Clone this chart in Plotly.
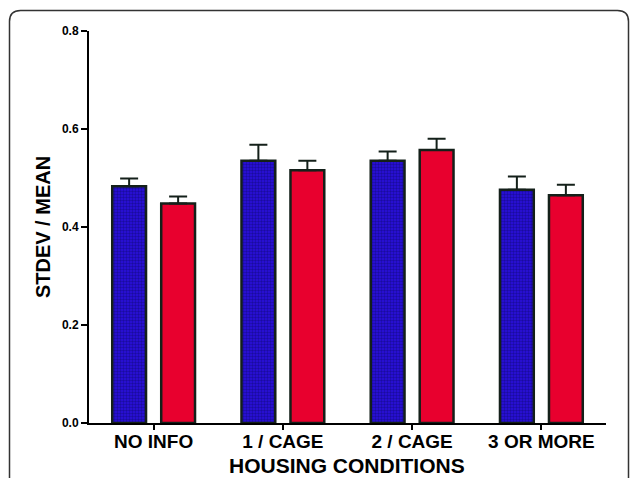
import plotly.graph_objects as go

categories = ["NO INFO", "1 / CAGE", "2 / CAGE", "3 OR MORE"]
blue_values = [0.483, 0.535, 0.535, 0.476]
blue_err = [0.016, 0.033, 0.019, 0.027]
red_values = [0.448, 0.516, 0.557, 0.465]
red_err = [0.014, 0.019, 0.023, 0.021]
y_ticks = [0.0, 0.2, 0.4, 0.6, 0.8]
y_ticklabels = ["0.0", "0.2", "0.4", "0.6", "0.8"]

W, H = 630, 478
L, R, T, B = 89, 24, 31, 55
pw, ph = W - L - R, H - T - B

def px(x):
    return (x - L) / pw

def py(y):
    return (H - B - y) / ph

outline = "#14201a"
err_style = dict(type="data", symmetric=False, thickness=2, width=9, color=outline)

fig = go.Figure()
fig.add_trace(go.Bar(
    x=categories, y=blue_values, name="A",
    marker=dict(color="#2a10e0",
                line=dict(color=outline, width=2.5),
                pattern=dict(shape=".", fgcolor="#0a0560", bgcolor="#2a10e0",
                             size=3, solidity=0.5, fillmode="overlay")),
    error_y=dict(array=blue_err, arrayminus=[0] * len(blue_err), **err_style),
))
fig.add_trace(go.Bar(
    x=categories, y=red_values, name="B",
    marker=dict(color="#e8002e", line=dict(color=outline, width=2.5)),
    error_y=dict(array=red_err, arrayminus=[0] * len(red_err), **err_style),
))

fl, ft, fr, fb, rad = 9.5, 10.5, 628.5, 520, 11
path = (f"M {px(fl)},{py(fb)} L {px(fl)},{py(ft + rad)} "
        f"Q {px(fl)},{py(ft)} {px(fl + rad)},{py(ft)} "
        f"L {px(fr - rad)},{py(ft)} Q {px(fr)},{py(ft)} {px(fr)},{py(ft + rad)} "
        f"L {px(fr)},{py(fb)}")
fig.add_shape(type="path", path=path, xref="paper", yref="paper",
              line=dict(color="#333333", width=1.5), layer="above")

font = "Liberation Sans, Arial, sans-serif"
fig.add_annotation(text="<b>HOUSING CONDITIONS</b>", xref="paper", yref="paper",
                   x=px(347), y=py(465), xanchor="center", yanchor="middle",
                   showarrow=False, font=dict(size=21, family=font, color="black"))

fig.update_layout(
    width=W, height=H,
    margin=dict(l=L, r=R, t=T, b=B, autoexpand=False),
    paper_bgcolor="white", plot_bgcolor="white",
    showlegend=False,
    barmode="group", bargap=0.242, bargroupgap=0.31,
    font=dict(family=font, color="black"),
    xaxis=dict(
        range=[-0.5, 3.5], showline=True, linecolor="black", linewidth=2,
        ticks="outside", ticklen=5, tickwidth=2, tickcolor="black",
        tickfont=dict(size=19, family=font, weight="bold"),
        ticklabelstandoff=-5,
        showgrid=False, zeroline=False,
    ),
    yaxis=dict(
        range=[0, 0.8], tickvals=y_ticks, ticktext=y_ticklabels,
        showline=True, linecolor="black", linewidth=2,
        ticks="outside", ticklen=6, tickwidth=2, tickcolor="black",
        tickfont=dict(size=12, family=font, weight="bold"),
        showgrid=False, zeroline=False,
        title=dict(text="<b>STDEV / MEAN</b>", font=dict(size=20), standoff=6),
    ),
)

fig.write_html("out.html", config={"displayModeBar": False},
               post_script="document.body.style.margin='0';document.body.style.overflow='hidden';")
